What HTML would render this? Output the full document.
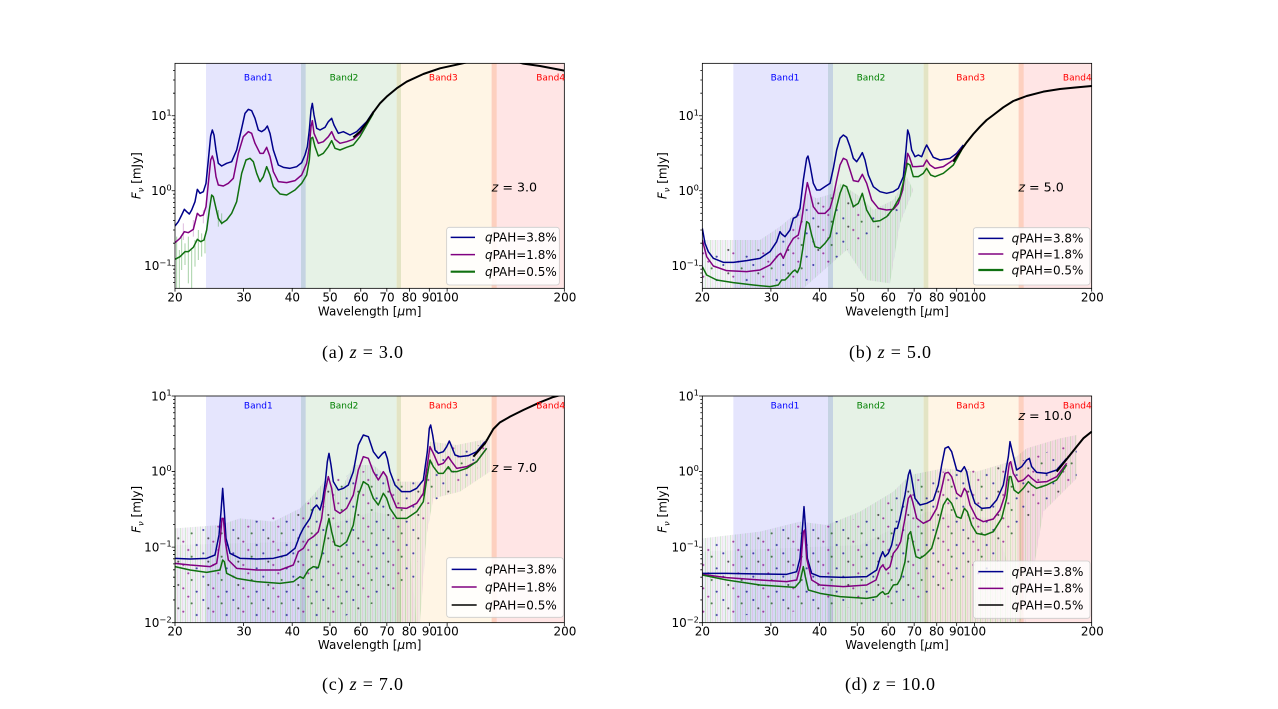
<!DOCTYPE html>
<html><head><meta charset="utf-8"><style>
html,body{margin:0;padding:0;background:#fff;}
svg{display:block;}
.t{font-family:"DejaVu Sans","Liberation Sans",sans-serif;fill:#000;}
.cap{font-family:"Liberation Serif",serif;fill:#000;font-size:18px;}
</style></head><body>
<svg width="1278" height="709" viewBox="0 0 1278 709" xmlns="http://www.w3.org/2000/svg">
<defs>
<pattern id="eb" x="0" y="0" width="15" height="20" patternUnits="userSpaceOnUse">
<line x1="2" y1="0" x2="2" y2="20" stroke="#3a9a3a" stroke-opacity="0.26" stroke-width="3"/>
<line x1="7" y1="0" x2="7" y2="20" stroke="#a040a0" stroke-opacity="0.18" stroke-width="3"/>
<line x1="12" y1="0" x2="12" y2="20" stroke="#4050b0" stroke-opacity="0.14" stroke-width="3"/>
</pattern>
<pattern id="dots" x="0" y="0" width="90" height="70" patternUnits="userSpaceOnUse">
<circle cx="10" cy="15" r="3.2" fill="#00008b"/>
<circle cx="40" cy="50" r="3.2" fill="#800080"/>
<circle cx="65" cy="25" r="3.2" fill="#0a4a0a"/>
<circle cx="80" cy="60" r="3.2" fill="#00008b"/>
<circle cx="25" cy="40" r="3.2" fill="#111"/>
<circle cx="55" cy="5" r="3.2" fill="#800080"/>
</pattern>
<clipPath id="cA"><rect x="105" y="40" width="1168" height="675"/></clipPath>
<clipPath id="cB"><rect x="127" y="40" width="1168" height="675"/></clipPath>
<clipPath id="cC"><rect x="105" y="33" width="1168" height="680"/></clipPath>
<clipPath id="cD"><rect x="127" y="33" width="1168" height="680"/></clipPath>
<path id="xt" d="M0,0v10 M205.7,0v10 M351.6,0v10 M464.8,0v10 M557.3,0v10 M635.5,0v10 M703.2,0v10 M763,0v10 M816.4,0v10 M1168,0v10" stroke="#000" stroke-width="2.4" fill="none"/>
<path id="ytAB" d="M0,197.3h-10 M0,422.3h-10 M0,647.3h-10 M0,697.2h-6 M0,682.1h-6 M0,669.1h-6 M0,657.6h-6 M0,579.6h-6 M0,539.9h-6 M0,511.8h-6 M0,490h-6 M0,472.2h-6 M0,457.1h-6 M0,444.1h-6 M0,432.6h-6 M0,354.6h-6 M0,314.9h-6 M0,286.8h-6 M0,265h-6 M0,247.2h-6 M0,232.1h-6 M0,219.1h-6 M0,207.6h-6 M0,129.6h-6 M0,89.9h-6 M0,61.8h-6" stroke="#000" stroke-width="2.4" fill="none"/>
<path id="ytCD" d="M0,33h-10 M0,259.7h-10 M0,486.3h-10 M0,713h-10 M0,644.8h-6 M0,604.8h-6 M0,576.5h-6 M0,554.5h-6 M0,536.6h-6 M0,521.4h-6 M0,508.3h-6 M0,496.7h-6 M0,418.1h-6 M0,378.1h-6 M0,349.8h-6 M0,327.8h-6 M0,309.9h-6 M0,294.7h-6 M0,281.6h-6 M0,270h-6 M0,191.5h-6 M0,151.5h-6 M0,123.2h-6 M0,101.2h-6 M0,83.3h-6 M0,68.1h-6 M0,55h-6 M0,43.4h-6" stroke="#000" stroke-width="2.4" fill="none"/>
</defs>

<!-- ================= PANEL A ================= -->
<g transform="translate(140,50) scale(0.333333)">
<g clip-path="url(#cA)">
<rect x="198" y="40" width="299" height="675" fill="#e5e5fd"/>
<rect x="483" y="40" width="300" height="675" fill="#e6f2e6"/>
<rect x="770" y="40" width="300" height="675" fill="#fff5e5"/>
<rect x="1055" y="40" width="218" height="675" fill="#ffe5e5"/>
<rect x="483" y="40" width="14" height="675" fill="#c5d3e2"/>
<rect x="770" y="40" width="13" height="675" fill="#e3e4c4"/>
<rect x="1055" y="40" width="15" height="675" fill="#fdd0bf"/>
<g stroke="#3a9a3a" stroke-opacity="0.45" stroke-width="3">
<line x1="110" y1="560" x2="110" y2="715"/><line x1="118" y1="600" x2="118" y2="715"/><line x1="125" y1="560" x2="125" y2="660"/><line x1="135" y1="580" x2="135" y2="645"/><line x1="145" y1="560" x2="145" y2="700"/><line x1="155" y1="600" x2="155" y2="715"/><line x1="165" y1="570" x2="165" y2="650"/><line x1="175" y1="540" x2="175" y2="630"/><line x1="185" y1="550" x2="185" y2="620"/><line x1="195" y1="560" x2="195" y2="610"/><line x1="235" y1="480" x2="235" y2="530"/><line x1="245" y1="490" x2="245" y2="525"/>
</g>
<g stroke="#a040a0" stroke-opacity="0.35" stroke-width="3"><line x1="130" y1="520" x2="130" y2="570"/><line x1="160" y1="510" x2="160" y2="560"/><line x1="190" y1="480" x2="190" y2="520"/></g>
<polyline fill="none" stroke="#00008b" stroke-width="4.5" stroke-linejoin="round" points="105,528 115,515 125,495 133,478 140,485 148,492 155,480 165,455 172,418 180,430 190,425 198,400 205,330 212,258 217,240 222,255 228,300 235,340 245,348 260,340 275,335 290,300 305,235 315,190 325,178 335,182 345,205 355,240 365,245 375,238 382,228 390,250 400,300 415,345 430,352 450,355 470,350 485,338 495,315 502,290 508,240 513,180 517,160 522,195 530,235 540,240 555,232 565,215 575,205 582,225 595,250 610,245 630,255 650,245 665,230 680,215 700,185"/>
<polyline fill="none" stroke="#800080" stroke-width="4.5" stroke-linejoin="round" points="105,578 120,565 133,545 145,548 160,538 172,490 180,498 190,495 198,470 205,400 212,330 217,318 222,335 228,380 235,405 250,408 265,400 280,385 295,310 310,260 325,245 335,250 345,280 360,310 370,310 380,292 390,320 400,365 415,395 440,398 465,392 485,375 500,340 508,290 513,230 517,212 522,250 535,280 550,275 565,260 575,245 585,268 600,280 620,275 640,268 660,250 680,220 700,185"/>
<polyline fill="none" stroke="#107010" stroke-width="4.5" stroke-linejoin="round" points="105,628 120,620 135,605 145,605 160,592 172,568 182,575 192,570 200,540 208,480 215,435 220,440 228,475 235,505 245,520 260,510 275,490 290,455 305,370 318,330 330,325 340,335 350,370 360,395 370,380 380,350 390,375 400,410 420,432 440,435 465,420 485,400 500,375 508,330 513,265 518,262 525,290 535,318 550,310 565,290 575,272 585,295 600,300 620,292 640,285 660,260 680,225 700,190"/>
<polyline fill="none" stroke="#000" stroke-width="6" stroke-linejoin="round" points="640,262 660,245 680,218 700,187 720,160 740,140 770,115 800,95 850,72 900,55 950,44 990,35 1060,25 1130,35 1150,41 1200,48 1273,62"/>
</g>
<rect x="105" y="40" width="1168" height="675" fill="none" stroke="#000" stroke-width="2.4"/>
<use href="#xt" x="105" y="715"/>
<use href="#ytAB" x="105" y="0"/>
<g class="t" font-size="27" text-anchor="middle">
<text x="355" y="91" style="fill:#0000ff">Band1</text>
<text x="612" y="91" style="fill:#008000">Band2</text>
<text x="910" y="91" style="fill:#ff0000">Band3</text>
<text x="1232" y="91" style="fill:#ff0000">Band4</text>
</g>
<text class="t" x="1055" y="425" font-size="38"><tspan font-style="italic">z</tspan> = 3.0</text>
<rect x="920" y="532" width="338" height="173" rx="8" fill="#fff" fill-opacity="0.85" stroke="#cccccc" stroke-width="2.4"/>
<line x1="932" y1="562" x2="1005" y2="562" stroke="#00008b" stroke-width="4.5"/>
<line x1="932" y1="614" x2="1005" y2="614" stroke="#800080" stroke-width="4.5"/>
<line x1="932" y1="665" x2="1005" y2="665" stroke="#107010" stroke-width="6.5"/>
<g class="t" font-size="36">
<text x="1035" y="575"><tspan font-style="italic">q</tspan>PAH=3.8%</text>
<text x="1035" y="627"><tspan font-style="italic">q</tspan>PAH=1.8%</text>
<text x="1035" y="678"><tspan font-style="italic">q</tspan>PAH=0.5%</text>
</g>
<g class="t" font-size="36" text-anchor="middle">
<text x="105" y="754">20</text><text x="312" y="754">30</text><text x="457" y="754">40</text><text x="570" y="754">50</text><text x="663" y="754">60</text><text x="741" y="754">70</text><text x="808" y="754">80</text><text x="868" y="754">90</text><text x="922" y="754">100</text><text x="1275" y="754">200</text>
<text x="689" y="796">Wavelength [<tspan font-style="italic">μ</tspan>m]</text>
</g>
<g class="t" font-size="36" text-anchor="end">
<text x="95" y="210">10<tspan font-size="25" dy="-14">1</tspan></text>
<text x="95" y="435">10<tspan font-size="25" dy="-14">0</tspan></text>
<text x="95" y="660">10<tspan font-size="25" dy="-14">−1</tspan></text>
</g>
<text class="t" font-size="36" text-anchor="middle" transform="translate(2,377) rotate(-90)"><tspan font-style="italic">F</tspan><tspan font-style="italic" font-size="25" dy="8">ν</tspan><tspan dy="-8"> [mJy]</tspan></text>
</g>

<!-- ================= PANEL B ================= -->
<g transform="translate(660,50) scale(0.333333)">
<g clip-path="url(#cB)">
<rect x="220" y="40" width="299" height="675" fill="#e5e5fd"/>
<rect x="504" y="40" width="301" height="675" fill="#e6f2e6"/>
<rect x="791" y="40" width="300" height="675" fill="#fff5e5"/>
<rect x="1076" y="40" width="219" height="675" fill="#ffe5e5"/>
<rect x="504" y="40" width="15" height="675" fill="#c5d3e2"/>
<rect x="791" y="40" width="14" height="675" fill="#e3e4c4"/>
<rect x="1076" y="40" width="15" height="675" fill="#fdd0bf"/>
<polygon fill="url(#eb)" points="127,570 300,570 360,530 420,480 440,430 470,445 520,430 540,400 600,440 640,480 700,450 740,380 760,420 720,520 690,700 620,690 560,600 430,715 127,715"/>
<polygon fill="url(#dots)" opacity="0.7" points="127,590 330,600 380,550 430,470 470,450 520,440 560,450 620,500 700,460 720,490 600,570 430,700 127,700"/>
<polyline fill="none" stroke="#00008b" stroke-width="4.5" stroke-linejoin="round" points="127,535 135,580 145,605 160,625 190,637 220,637 260,632 300,625 330,605 350,575 360,545 365,552 375,560 390,540 400,505 410,500 420,475 430,390 440,325 444,318 450,345 460,400 470,420 480,420 495,410 510,400 520,355 530,300 540,265 550,255 560,262 570,290 580,325 590,335 600,320 607,308 615,330 625,375 640,410 660,425 680,430 700,425 715,415 730,380 738,300 743,240 748,255 755,300 765,320 775,315 785,320 795,295 800,285 808,300 820,322 840,330 870,325 890,310 910,285"/>
<polyline fill="none" stroke="#800080" stroke-width="4.5" stroke-linejoin="round" points="127,570 140,620 160,648 200,662 260,665 300,660 330,645 355,615 362,610 370,625 385,590 400,565 415,555 425,510 435,440 442,398 448,420 460,470 475,490 495,490 510,475 520,440 530,390 540,345 550,325 560,330 570,360 580,392 595,395 607,373 620,400 635,450 655,475 680,480 700,478 715,460 728,420 738,350 743,310 748,320 758,350 770,350 790,348 800,330 810,345 825,355 850,350 880,330 905,295"/>
<polyline fill="none" stroke="#107010" stroke-width="4.5" stroke-linejoin="round" points="127,650 140,675 170,690 220,698 280,705 330,710 355,705 365,690 375,690 385,680 398,665 405,660 412,668 420,650 430,585 440,515 447,520 455,555 465,590 480,595 495,580 510,560 525,490 540,430 550,405 560,410 570,440 580,470 595,460 607,430 620,480 640,515 660,512 680,500 700,475 720,440 735,375 742,340 750,345 760,380 775,380 790,370 800,355 812,375 825,380 850,370 880,345 905,300"/>
<polyline fill="none" stroke="#000" stroke-width="6" stroke-linejoin="round" points="880,335 900,305 920,277 940,252 960,230 980,210 1000,195 1030,172 1060,153 1100,138 1150,125 1200,117 1250,112 1295,108"/>
</g>
<rect x="127" y="40" width="1168" height="675" fill="none" stroke="#000" stroke-width="2.4"/>
<use href="#xt" x="127" y="715"/>
<use href="#ytAB" x="127" y="0"/>
<g class="t" font-size="27" text-anchor="middle">
<text x="375" y="91" style="fill:#0000ff">Band1</text>
<text x="633" y="91" style="fill:#008000">Band2</text>
<text x="932" y="91" style="fill:#ff0000">Band3</text>
<text x="1252" y="91" style="fill:#ff0000">Band4</text>
</g>
<text class="t" x="1075" y="425" font-size="38"><tspan font-style="italic">z</tspan> = 5.0</text>
<rect x="940" y="533" width="350" height="172" rx="8" fill="#fff" fill-opacity="0.85" stroke="#cccccc" stroke-width="2.4"/>
<line x1="955" y1="565" x2="1030" y2="565" stroke="#00008b" stroke-width="4.5"/>
<line x1="955" y1="612" x2="1030" y2="612" stroke="#800080" stroke-width="4.5"/>
<line x1="955" y1="660" x2="1030" y2="660" stroke="#107010" stroke-width="6.5"/>
<g class="t" font-size="36">
<text x="1055" y="578"><tspan font-style="italic">q</tspan>PAH=3.8%</text>
<text x="1055" y="625"><tspan font-style="italic">q</tspan>PAH=1.8%</text>
<text x="1055" y="673"><tspan font-style="italic">q</tspan>PAH=0.5%</text>
</g>
<g class="t" font-size="36" text-anchor="middle">
<text x="127" y="754">20</text><text x="334" y="754">30</text><text x="479" y="754">40</text><text x="592" y="754">50</text><text x="685" y="754">60</text><text x="763" y="754">70</text><text x="830" y="754">80</text><text x="890" y="754">90</text><text x="944" y="754">100</text><text x="1297" y="754">200</text>
<text x="711" y="796">Wavelength [<tspan font-style="italic">μ</tspan>m]</text>
</g>
<g class="t" font-size="36" text-anchor="end">
<text x="117" y="210">10<tspan font-size="25" dy="-14">1</tspan></text>
<text x="117" y="435">10<tspan font-size="25" dy="-14">0</tspan></text>
<text x="117" y="660">10<tspan font-size="25" dy="-14">−1</tspan></text>
</g>
<text class="t" font-size="36" text-anchor="middle" transform="translate(20,377) rotate(-90)"><tspan font-style="italic">F</tspan><tspan font-style="italic" font-size="25" dy="8">ν</tspan><tspan dy="-8"> [mJy]</tspan></text>
</g>

<!-- ================= PANEL C ================= -->
<g transform="translate(140,385) scale(0.333333)">
<g clip-path="url(#cC)">
<rect x="198" y="33" width="299" height="680" fill="#e5e5fd"/>
<rect x="483" y="33" width="300" height="680" fill="#e6f2e6"/>
<rect x="770" y="33" width="300" height="680" fill="#fff5e5"/>
<rect x="1055" y="33" width="218" height="680" fill="#ffe5e5"/>
<rect x="483" y="33" width="14" height="680" fill="#c5d3e2"/>
<rect x="770" y="33" width="13" height="680" fill="#e3e4c4"/>
<rect x="1055" y="33" width="15" height="680" fill="#fdd0bf"/>
<polygon fill="url(#eb)" points="105,430 240,420 300,400 400,410 480,370 520,330 560,280 600,320 640,240 700,240 760,290 850,290 870,170 950,180 1050,160 1050,260 960,320 880,340 860,450 840,713 105,713"/>
<polygon fill="url(#eb)" opacity="0.4" points="105,480 480,470 560,420 700,380 800,400 830,713 105,713"/>
<polygon fill="url(#dots)" opacity="0.7" points="105,440 300,410 480,380 560,290 700,250 850,300 870,190 1040,180 1000,280 860,360 820,600 600,700 105,700"/>
<polyline fill="none" stroke="#00008b" stroke-width="4.5" stroke-linejoin="round" points="105,520 150,522 200,520 225,510 237,450 243,380 248,310 253,380 258,460 270,505 300,520 350,522 400,520 440,510 465,490 480,450 490,430 500,415 510,400 520,370 530,360 540,375 548,345 556,290 562,230 567,205 573,240 580,290 595,315 610,310 625,300 640,260 655,180 670,150 685,155 700,200 715,220 728,205 735,200 742,220 750,260 765,300 785,320 810,320 830,310 850,285 862,200 868,130 872,120 878,150 885,195 895,205 910,200 920,185 928,168 935,185 945,210 960,215 985,212 1010,200 1035,170"/>
<polyline fill="none" stroke="#800080" stroke-width="4.5" stroke-linejoin="round" points="105,535 150,540 210,545 230,535 240,470 246,400 250,400 256,470 265,525 290,550 350,555 420,555 460,540 475,500 490,490 505,465 520,455 535,440 545,400 555,320 565,275 575,310 585,375 600,385 620,370 640,330 655,255 670,215 685,220 700,260 715,285 730,260 740,275 750,320 770,368 800,370 830,355 850,325 862,240 870,185 880,205 895,240 910,235 925,215 935,230 950,250 980,245 1010,230 1040,190"/>
<polyline fill="none" stroke="#107010" stroke-width="4.5" stroke-linejoin="round" points="105,545 150,555 200,562 240,555 248,525 253,530 260,565 290,580 350,590 420,595 460,590 480,575 490,580 505,555 520,545 535,548 545,510 560,430 567,400 575,440 585,480 600,485 620,470 640,420 655,330 670,290 685,300 700,340 715,360 730,325 740,340 750,370 770,400 800,400 830,380 850,350 862,270 870,225 880,245 895,265 910,265 925,245 935,260 950,260 980,250 1010,230 1040,190"/>
<polyline fill="none" stroke="#000" stroke-width="6" stroke-linejoin="round" points="1000,215 1035,175 1060,132 1080,112 1110,95 1150,75 1200,52 1240,36 1270,28"/>
</g>
<rect x="105" y="33" width="1168" height="680" fill="none" stroke="#000" stroke-width="2.4"/>
<use href="#xt" x="105" y="713"/>
<use href="#ytCD" x="105" y="0"/>
<g class="t" font-size="27" text-anchor="middle">
<text x="355" y="71" style="fill:#0000ff">Band1</text>
<text x="612" y="71" style="fill:#008000">Band2</text>
<text x="910" y="71" style="fill:#ff0000">Band3</text>
<text x="1232" y="71" style="fill:#ff0000">Band4</text>
</g>
<text class="t" x="1055" y="261" font-size="38"><tspan font-style="italic">z</tspan> = 7.0</text>
<rect x="920" y="518" width="350" height="179" rx="8" fill="#fff" fill-opacity="0.85" stroke="#cccccc" stroke-width="2.4"/>
<line x1="935" y1="553" x2="1010" y2="553" stroke="#00008b" stroke-width="4.5"/>
<line x1="935" y1="606" x2="1010" y2="606" stroke="#800080" stroke-width="4.5"/>
<line x1="935" y1="660" x2="1010" y2="660" stroke="#000" stroke-width="4.5"/>
<g class="t" font-size="36">
<text x="1035" y="566"><tspan font-style="italic">q</tspan>PAH=3.8%</text>
<text x="1035" y="619"><tspan font-style="italic">q</tspan>PAH=1.8%</text>
<text x="1035" y="673"><tspan font-style="italic">q</tspan>PAH=0.5%</text>
</g>
<g class="t" font-size="36" text-anchor="middle">
<text x="105" y="752">20</text><text x="312" y="752">30</text><text x="457" y="752">40</text><text x="570" y="752">50</text><text x="663" y="752">60</text><text x="741" y="752">70</text><text x="808" y="752">80</text><text x="868" y="752">90</text><text x="922" y="752">100</text><text x="1275" y="752">200</text>
<text x="689" y="792">Wavelength [<tspan font-style="italic">μ</tspan>m]</text>
</g>
<g class="t" font-size="36" text-anchor="end">
<text x="95" y="46">10<tspan font-size="25" dy="-14">1</tspan></text>
<text x="95" y="272">10<tspan font-size="25" dy="-14">0</tspan></text>
<text x="95" y="499">10<tspan font-size="25" dy="-14">−1</tspan></text>
<text x="95" y="726">10<tspan font-size="25" dy="-14">−2</tspan></text>
</g>
<text class="t" font-size="36" text-anchor="middle" transform="translate(2,373) rotate(-90)"><tspan font-style="italic">F</tspan><tspan font-style="italic" font-size="25" dy="8">ν</tspan><tspan dy="-8"> [mJy]</tspan></text>
</g>

<!-- ================= PANEL D ================= -->
<g transform="translate(660,385) scale(0.333333)">
<g clip-path="url(#cD)">
<rect x="220" y="33" width="299" height="680" fill="#e5e5fd"/>
<rect x="504" y="33" width="301" height="680" fill="#e6f2e6"/>
<rect x="791" y="33" width="300" height="680" fill="#fff5e5"/>
<rect x="1076" y="33" width="219" height="680" fill="#ffe5e5"/>
<rect x="504" y="33" width="15" height="680" fill="#c5d3e2"/>
<rect x="791" y="33" width="14" height="680" fill="#e3e4c4"/>
<rect x="1076" y="33" width="15" height="680" fill="#fdd0bf"/>
<polygon fill="url(#eb)" points="127,460 300,440 420,410 500,420 600,380 700,320 750,270 850,250 950,260 1050,230 1100,190 1200,160 1250,150 1250,280 1150,380 1120,560 1080,713 127,713"/>
<polygon fill="url(#eb)" opacity="0.4" points="127,500 600,480 800,380 1000,400 1100,713 127,713"/>
<polygon fill="url(#dots)" opacity="0.7" points="127,480 420,420 600,400 750,290 850,260 1050,240 1250,170 1250,280 1100,400 1000,550 800,650 127,700"/>
<polyline fill="none" stroke="#00008b" stroke-width="4.5" stroke-linejoin="round" points="127,565 200,565 300,567 380,568 410,560 420,520 428,420 432,365 436,420 442,520 455,565 480,575 550,577 620,575 650,555 660,520 668,500 675,515 685,505 695,480 705,430 712,430 720,400 735,330 745,270 750,255 755,280 765,340 780,360 800,355 820,345 835,300 845,240 855,190 865,185 875,200 890,255 903,260 913,245 920,260 930,310 945,355 965,370 990,368 1010,345 1030,300 1045,215 1050,170 1057,200 1070,255 1085,245 1100,225 1108,220 1115,245 1130,262 1160,265 1190,255 1220,220"/>
<polyline fill="none" stroke="#800080" stroke-width="4.5" stroke-linejoin="round" points="127,568 200,578 300,585 380,590 410,585 422,540 430,440 434,435 440,520 455,585 480,600 550,605 620,600 648,585 660,550 668,540 678,555 690,545 700,505 712,490 722,470 735,400 745,340 752,330 758,350 770,400 790,415 810,405 830,370 845,310 855,265 865,262 875,275 890,325 903,335 913,310 920,320 930,360 950,400 970,410 1000,402 1020,375 1035,330 1048,235 1052,230 1060,265 1075,290 1090,285 1105,270 1115,280 1130,292 1160,290 1190,275 1220,235"/>
<polyline fill="none" stroke="#107010" stroke-width="4.5" stroke-linejoin="round" points="127,570 200,585 300,600 405,607 420,590 430,545 436,575 445,615 480,625 540,635 620,640 650,635 660,625 668,620 675,628 685,625 700,600 712,598 722,580 735,530 745,450 752,440 758,470 768,515 780,520 795,510 815,490 835,420 850,360 862,340 875,355 890,395 903,400 913,370 922,380 935,420 950,445 975,450 1000,440 1025,400 1040,340 1048,275 1053,275 1062,315 1075,325 1090,310 1105,290 1115,300 1130,310 1160,300 1190,285 1220,240"/>
<polyline fill="none" stroke="#000" stroke-width="6" stroke-linejoin="round" points="1190,260 1210,235 1230,210 1250,185 1270,160 1295,140"/>
</g>
<rect x="127" y="33" width="1168" height="680" fill="none" stroke="#000" stroke-width="2.4"/>
<use href="#xt" x="127" y="713"/>
<use href="#ytCD" x="127" y="0"/>
<g class="t" font-size="27" text-anchor="middle">
<text x="375" y="71" style="fill:#0000ff">Band1</text>
<text x="633" y="71" style="fill:#008000">Band2</text>
<text x="932" y="71" style="fill:#ff0000">Band3</text>
<text x="1252" y="71" style="fill:#ff0000">Band4</text>
</g>
<text class="t" x="1075" y="105" font-size="38"><tspan font-style="italic">z</tspan> = 10.0</text>
<rect x="940" y="528" width="350" height="172" rx="8" fill="#fff" fill-opacity="0.8" stroke="#cccccc" stroke-width="2.4"/>
<line x1="955" y1="560" x2="1030" y2="560" stroke="#00008b" stroke-width="4.5"/>
<line x1="955" y1="610" x2="1030" y2="610" stroke="#800080" stroke-width="4.5"/>
<line x1="955" y1="660" x2="1030" y2="660" stroke="#000" stroke-width="4.5"/>
<g class="t" font-size="36">
<text x="1055" y="573"><tspan font-style="italic">q</tspan>PAH=3.8%</text>
<text x="1055" y="623"><tspan font-style="italic">q</tspan>PAH=1.8%</text>
<text x="1055" y="673"><tspan font-style="italic">q</tspan>PAH=0.5%</text>
</g>
<g class="t" font-size="36" text-anchor="middle">
<text x="127" y="752">20</text><text x="334" y="752">30</text><text x="479" y="752">40</text><text x="592" y="752">50</text><text x="685" y="752">60</text><text x="763" y="752">70</text><text x="830" y="752">80</text><text x="890" y="752">90</text><text x="944" y="752">100</text><text x="1297" y="752">200</text>
<text x="711" y="792">Wavelength [<tspan font-style="italic">μ</tspan>m]</text>
</g>
<g class="t" font-size="36" text-anchor="end">
<text x="117" y="46">10<tspan font-size="25" dy="-14">1</tspan></text>
<text x="117" y="272">10<tspan font-size="25" dy="-14">0</tspan></text>
<text x="117" y="499">10<tspan font-size="25" dy="-14">−1</tspan></text>
<text x="117" y="726">10<tspan font-size="25" dy="-14">−2</tspan></text>
</g>
<text class="t" font-size="36" text-anchor="middle" transform="translate(20,373) rotate(-90)"><tspan font-style="italic">F</tspan><tspan font-style="italic" font-size="25" dy="8">ν</tspan><tspan dy="-8"> [mJy]</tspan></text>
</g>

<!-- ================= CAPTIONS ================= -->
<text class="cap" x="322" y="358" textLength="81" lengthAdjust="spacing">(a) <tspan font-style="italic">z</tspan> = 3.0</text>
<text class="cap" x="849" y="358" textLength="82" lengthAdjust="spacing">(b) <tspan font-style="italic">z</tspan> = 5.0</text>
<text class="cap" x="322" y="690" textLength="81" lengthAdjust="spacing">(c) <tspan font-style="italic">z</tspan> = 7.0</text>
<text class="cap" x="845" y="690" textLength="90" lengthAdjust="spacing">(d) <tspan font-style="italic">z</tspan> = 10.0</text>
</svg>
</body></html>
